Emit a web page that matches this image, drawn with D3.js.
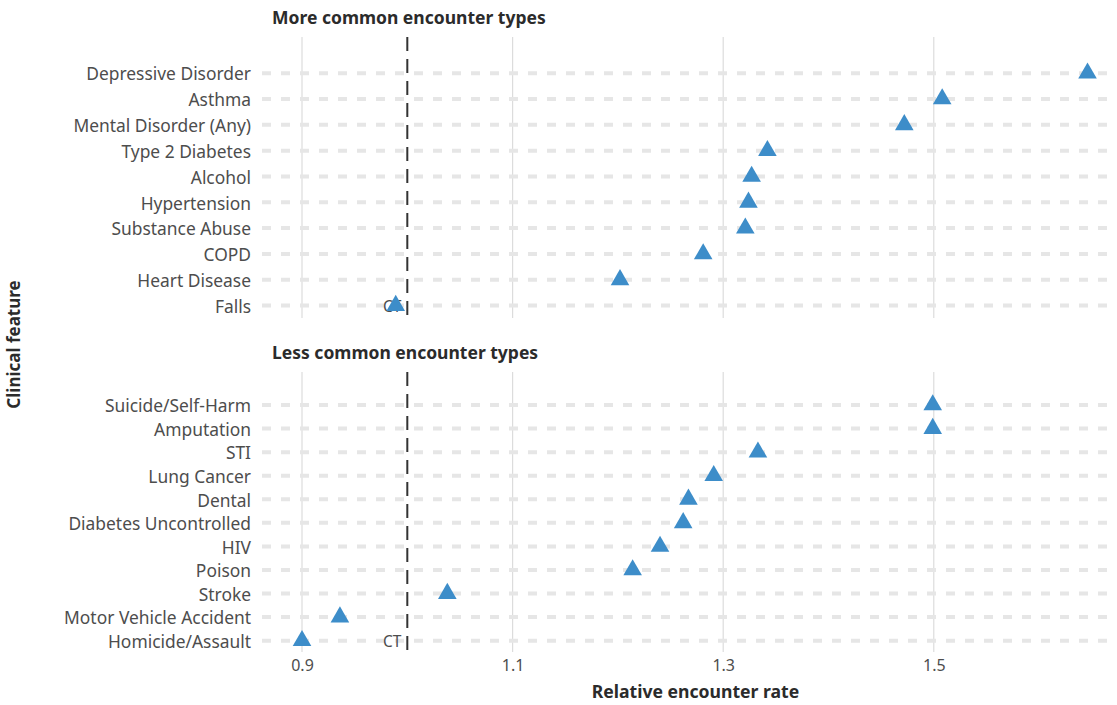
<!DOCTYPE html>
<html>
<head>
<meta charset="utf-8">
<script src="https://cdn.jsdelivr.net/npm/d3@7"></script>
<style>
  html, body { margin: 0; padding: 0; background: #ffffff; }
  svg { display: block; font-family: "Noto Sans", "Open Sans", sans-serif; }
</style>
</head>
<body>
<svg id="chart" width="1117" height="705"></svg>
<script>
// Relative encounter rate by clinical feature, split into two facets
const moreCommonFeatures = [
  "Depressive Disorder", "Asthma", "Mental Disorder (Any)", "Type 2 Diabetes",
  "Alcohol", "Hypertension", "Substance Abuse", "COPD", "Heart Disease", "Falls"
];
const moreCommonRates = [1.646, 1.508, 1.472, 1.342, 1.327, 1.324, 1.321, 1.281, 1.202, 0.989];

const lessCommonFeatures = [
  "Suicide/Self-Harm", "Amputation", "STI", "Lung Cancer", "Dental",
  "Diabetes Uncontrolled", "HIV", "Poison", "Stroke", "Motor Vehicle Accident",
  "Homicide/Assault"
];
const lessCommonRates = [1.499, 1.499, 1.333, 1.291, 1.267, 1.262, 1.240, 1.214, 1.038, 0.936, 0.900];

const facetTitles = ["More common encounter types", "Less common encounter types"];
const xTickValues = [0.9, 1.1, 1.3, 1.5];
const referenceRate = 1.0;
const referenceLabel = "CT";
const xAxisTitle = "Relative encounter rate";
const yAxisTitle = "Clinical feature";

const svg = d3.select("#chart");
const plotLeft = 262, plotRight = 1117;

const x = d3.scaleLinear().domain([0.862, 1.674]).range([plotLeft, plotRight]);

const panels = [
  { title: facetTitles[0], features: moreCommonFeatures, rates: moreCommonRates, top: 37, bottom: 318 },
  { title: facetTitles[1], features: lessCommonFeatures, rates: lessCommonRates, top: 372, bottom: 652 }
];

const padTop = 1.4, padBottom = 0.48;
const textColor = "#4d4d4d";
const titleColor = "#2b2b2b";
const pointColor = "#3d8dc9";
const triangle = d3.symbol().type(d3.symbolTriangle).size(150);

panels.forEach(p => {
  const n = p.features.length;
  const step = (p.bottom - p.top) / (n - 1 + padTop + padBottom);
  const y = d3.scalePoint()
    .domain(p.features)
    .range([p.top + padTop * step, p.bottom - padBottom * step]);

  const g = svg.append("g");

  // vertical major gridlines
  g.selectAll("line.vgrid").data(xTickValues).join("line")
    .attr("class", "vgrid")
    .attr("x1", d => x(d)).attr("x2", d => x(d))
    .attr("y1", p.top).attr("y2", p.bottom)
    .attr("stroke", "#dcdcdc").attr("stroke-width", 1.2);

  // dashed row guides
  g.selectAll("line.row").data(p.features).join("line")
    .attr("class", "row")
    .attr("x1", plotLeft).attr("x2", plotRight)
    .attr("y1", d => y(d)).attr("y2", d => y(d))
    .attr("stroke", "#e6e6e6").attr("stroke-width", 4)
    .attr("stroke-dasharray", "9 10");

  // reference line at rate 1
  g.append("line")
    .attr("x1", x(referenceRate)).attr("x2", x(referenceRate))
    .attr("y1", p.top).attr("y2", p.bottom)
    .attr("stroke", "#333333").attr("stroke-width", 2)
    .attr("stroke-dasharray", "14 8");

  // reference label next to the line on the last row
  g.append("text")
    .attr("x", x(referenceRate) - 6)
    .attr("y", y(p.features[n - 1]))
    .attr("dy", "0.42em")
    .attr("text-anchor", "end")
    .attr("font-size", 15.5)
    .attr("fill", textColor)
    .text(referenceLabel);

  // category labels
  g.selectAll("text.cat").data(p.features).join("text")
    .attr("class", "cat")
    .attr("x", 251)
    .attr("y", d => y(d))
    .attr("dy", "0.42em")
    .attr("text-anchor", "end")
    .attr("font-size", 17.4)
    .attr("fill", textColor)
    .text(d => d);

  // facet title
  svg.append("text")
    .attr("x", 272)
    .attr("y", p.top - 13)
    .attr("font-size", 17.5)
    .attr("font-weight", "bold")
    .attr("fill", titleColor)
    .text(p.title);

  // points
  g.selectAll("path.pt").data(p.features).join("path")
    .attr("class", "pt")
    .attr("d", triangle)
    .attr("transform", (d, i) => `translate(${x(p.rates[i])},${y(d)})`)
    .attr("fill", pointColor);
});

// x axis tick labels
const xAxis = d3.axisBottom(x).tickValues(xTickValues).tickSize(0).tickPadding(0)
  .tickFormat(d3.format(".1f"));
const ax = svg.append("g").attr("transform", `translate(0,${panels[1].bottom + 8})`).call(xAxis);
ax.select(".domain").remove();
ax.selectAll("text")
  .attr("font-size", 16)
  .attr("fill", textColor)
  .attr("font-family", "'Noto Sans', 'Open Sans', sans-serif");

// axis titles
svg.append("text")
  .attr("x", (plotLeft + plotRight) / 2 + 6)
  .attr("y", 698)
  .attr("text-anchor", "middle")
  .attr("font-size", 17.6)
  .attr("font-weight", "bold")
  .attr("fill", titleColor)
  .text(xAxisTitle);

svg.append("text")
  .attr("transform", `translate(20,${(panels[0].top + panels[1].bottom) / 2}) rotate(-90)`)
  .attr("text-anchor", "middle")
  .attr("font-size", 17)
  .attr("font-weight", "bold")
  .attr("fill", titleColor)
  .text(yAxisTitle);
</script>
</body>
</html>
